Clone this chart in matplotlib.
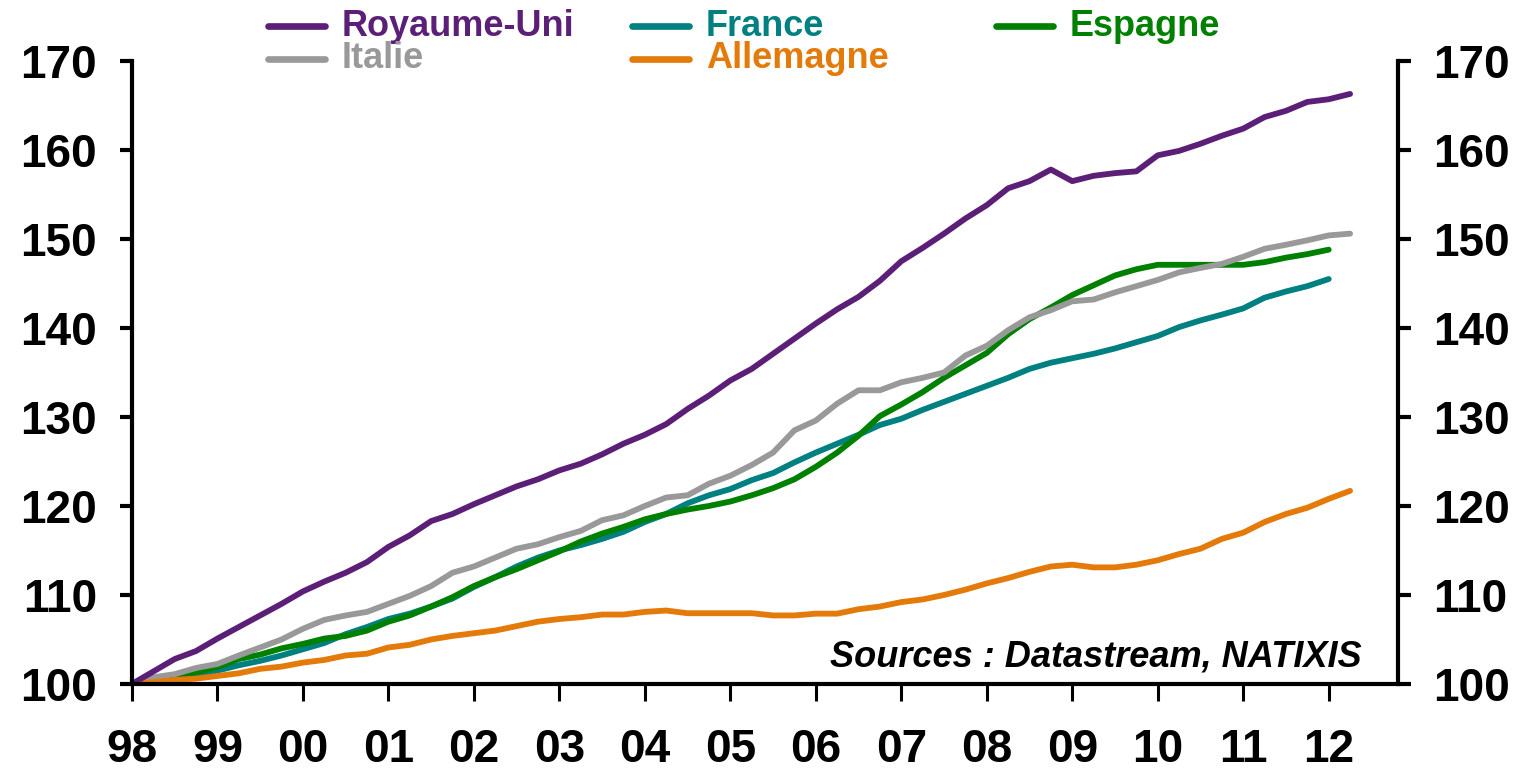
import numpy as np
import matplotlib.pyplot as plt
from matplotlib.lines import Line2D

plt.rcParams['font.family'] = ['Liberation Sans', 'DejaVu Sans']
plt.rcParams['font.weight'] = 'bold'

# quarterly index, 1998Q1 = 100
royaume_uni = [100.0, 101.4, 102.8, 103.7, 105.1, 106.4, 107.7, 109.0, 110.4, 111.5,
               112.5, 113.7, 115.4, 116.7, 118.3, 119.1, 120.2, 121.2, 122.2, 123.0,
               124.0, 124.75, 125.8, 127.0, 128.0, 129.2, 130.9, 132.4, 134.1, 135.4,
               137.1, 138.8, 140.5, 142.1, 143.5, 145.3, 147.5, 149.0, 150.6, 152.3,
               153.8, 155.7, 156.5, 157.8, 156.5, 157.1, 157.4, 157.6, 159.4, 159.9,
               160.7, 161.6, 162.4, 163.7, 164.4, 165.4, 165.7, 166.3]
italie = [100.0, 100.75, 101.1, 101.8, 102.25, 103.2, 104.1, 105.0, 106.2, 107.2,
          107.7, 108.1, 109.0, 109.9, 111.0, 112.5, 113.2, 114.2, 115.2, 115.7,
          116.5, 117.2, 118.4, 118.95, 120.0, 120.95, 121.2, 122.5, 123.4, 124.6,
          126.0, 128.5, 129.6, 131.5, 133.0, 133.0, 133.9, 134.4, 135.0, 136.9,
          138.0, 139.75, 141.2, 142.0, 143.0, 143.2, 144.0, 144.7, 145.4, 146.25,
          146.75, 147.2, 148.0, 148.9, 149.35, 149.85, 150.4, 150.6]
france = [100.0, 100.2, 100.6, 100.9, 101.5, 102.1, 102.6, 103.2, 103.9, 104.6,
          105.6, 106.4, 107.3, 107.9, 108.7, 109.6, 110.9, 112.0, 113.2, 114.2,
          115.0, 115.6, 116.3, 117.1, 118.2, 119.1, 120.3, 121.2, 121.9, 122.9,
          123.7, 124.9, 126.0, 127.0, 128.0, 129.1, 129.8, 130.8, 131.7, 132.6,
          133.5, 134.4, 135.4, 136.1, 136.6, 137.1, 137.7, 138.4, 139.1, 140.1,
          140.85, 141.5, 142.2, 143.4, 144.1, 144.7, 145.5]
espagne = [100.0, 100.3, 100.75, 101.3, 101.9, 102.8, 103.3, 104.0, 104.5, 105.1,
           105.4, 106.0, 107.0, 107.7, 108.7, 109.75, 111.0, 112.0, 112.9, 113.9,
           114.9, 116.0, 116.9, 117.65, 118.5, 119.1, 119.6, 120.0, 120.5, 121.2,
           122.0, 123.0, 124.4, 126.0, 127.9, 130.1, 131.4, 132.8, 134.4, 135.8,
           137.2, 139.3, 141.0, 142.3, 143.7, 144.8, 145.9, 146.6, 147.1, 147.1,
           147.1, 147.1, 147.1, 147.4, 147.9, 148.3, 148.8]
allemagne = [100.0, 100.2, 100.45, 100.6, 100.9, 101.2, 101.7, 101.95, 102.4, 102.7,
             103.2, 103.4, 104.1, 104.4, 105.0, 105.4, 105.7, 106.0, 106.5, 107.0,
             107.3, 107.5, 107.8, 107.8, 108.1, 108.25, 107.95, 107.95, 107.95, 107.95,
             107.7, 107.7, 107.9, 107.9, 108.4, 108.7, 109.2, 109.5, 110.0, 110.6,
             111.3, 111.9, 112.6, 113.2, 113.4, 113.1, 113.1, 113.4, 113.9, 114.6,
             115.2, 116.3, 117.0, 118.2, 119.1, 119.8, 120.8, 121.7]

years = list(range(1998, 2013))
year_labels = ['98', '99', '00', '01', '02', '03', '04', '05', '06', '07', '08', '09', '10', '11', '12']

def quarters(s):
    return 1998 + np.arange(len(s)) / 4.0

series = [
    ('France', france, '#008080'),
    ('Espagne', espagne, '#008000'),
    ('Italie', italie, '#999999'),
    ('Allemagne', allemagne, '#E37A0A'),
    ('Royaume-Uni', royaume_uni, '#5B1F78'),
]

fig = plt.figure(figsize=(15.2, 7.76), dpi=100)
ax = fig.add_axes([0.0868, 0.1186, 0.9197 - 0.0868, 0.9214 - 0.1186])

for name, vals, col in series:
    ax.plot(quarters(vals), vals, color=col, lw=4.2, solid_capstyle='round', solid_joinstyle='round')

ax.set_xlim(1998, 2012.81)
ax.set_ylim(100, 170)
ax.set_yticks([100, 110, 120, 130, 140, 150, 160, 170])
ax.set_xticks(years)
ax.set_xticklabels(year_labels)

ax.spines['top'].set_visible(False)
for sp in ['left', 'right', 'bottom']:
    ax.spines[sp].set_linewidth(3)

ax.tick_params(axis='y', which='both', direction='out', length=9, width=3,
               labelsize=33, pad=16, left=True, right=True, labelleft=True, labelright=True)
ax.tick_params(axis='x', direction='out', length=12, width=2.2, labelsize=33, pad=20)
for lab in ax.get_xticklabels() + ax.get_yticklabels():
    lab.set_fontweight('bold')

ax.text(0.9716, 0.0433, 'Sources : Datastream, NATIXIS', transform=ax.transAxes,
        ha='right', va='center', fontsize=26, fontweight='bold', fontstyle='italic')

# legend drawn by hand (two rows, three columns)
legend_items = [
    ('Royaume-Uni', '#5B1F78', 268, 26),
    ('France', '#008080', 632, 26),
    ('Espagne', '#008000', 996, 26),
    ('Italie', '#999999', 268, 59),
    ('Allemagne', '#E37A0A', 632, 59),
]
W, H = 1520, 776
for name, col, px, py in legend_items:
    yy = 1 - py / H
    fig.add_artist(Line2D([px / W, (px + 57) / W], [yy, yy], color=col, lw=4.8,
                          solid_capstyle='round', transform=fig.transFigure))
    fig.text((px + 74) / W, yy, name, color=col, fontsize=26, fontweight='bold',
             ha='left', va='center')

fig.savefig('out.png', dpi=100)
